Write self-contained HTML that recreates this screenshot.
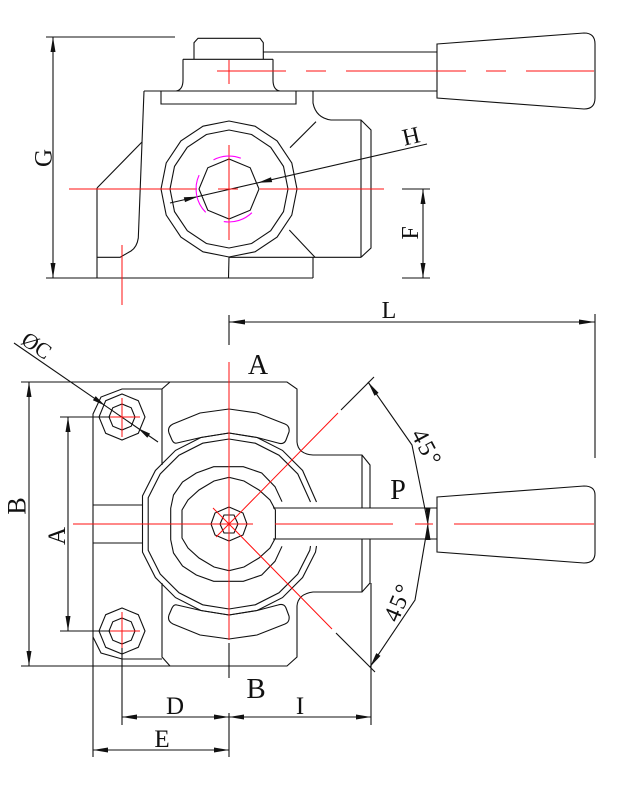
<!DOCTYPE html>
<html>
<head>
<meta charset="utf-8">
<style>
html,body{margin:0;padding:0;background:#fff;}
svg{display:block;}
text{font-family:"Liberation Serif",serif;fill:#111;}
</style>
</head>
<body>
<svg width="629" height="794" viewBox="0 0 629 794" xmlns="http://www.w3.org/2000/svg">
<rect width="629" height="794" fill="#fff"/>

<!-- ================= TOP VIEW ================= -->
<g fill="none" stroke="#111" stroke-width="1.1">
  <path d="M194,59.3 L194,42.7 L198,38.3 L260,38.3 L263.3,42.7 L263.3,59.3"/>
  <path d="M183,59.3 L273,59.3"/>
  <path d="M183,59.3 L183,80 Q183,90 176,91"/>
  <path d="M273,59.3 L273,80 Q273,90 280,91"/>
  <path d="M263.3,52 L437,52"/>
  <path d="M144,91 L437,91"/>
  <path d="M437,44 L584,33 Q595,33 595,44 L595,98 Q595,109 584,109 L437,98 Z"/>
  <path d="M161,91 L161,104 L296,104 L296,91"/>
  <path d="M144,91 L138.3,238 Q137,247 131,251 L120,257.3 L97,257.3"/>
  <path d="M97,188 L97,278"/>
  <path d="M97,188 L142,142"/>
  <path d="M97,278 L313,278"/>
  <path d="M229,257 L228.5,278"/>
  <path d="M313,257 L313,278"/>
  <path d="M229,257.3 L361,257.3"/>
  <path d="M313,91 L313,103 Q316,118 331,120 L361,120 L371,130 L371,248 L361,257.3"/>
  <path d="M361,120 L361,257.3"/>
  <path d="M290,147.7 L316,121.7"/>
  <path d="M289.3,230 L315,257.3"/>
  <polygon points="297,189 291.8,163 277.1,140.9 255,126.2 229,121 203,126.2 180.9,140.9 166.2,163 161,189 166.2,215 180.9,237.1 203,251.8 229,257 255,251.8 277.1,237.1 291.8,215"/>
  <polygon points="288,189 283.5,166.4 270.7,147.3 251.6,134.5 229,130 206.4,134.5 187.3,147.3 174.5,166.4 170,189 174.5,211.6 187.3,230.7 206.4,243.5 229,248 251.6,243.5 270.7,230.7 283.5,211.6"/>
  <polygon points="259,189 250.2,167.8 229,159 207.8,167.8 199,189 207.8,210.2 229,219 250.2,210.2"/>
  <path d="M53,37 L53,278"/>
  <path d="M46,37 L175,37"/>
  <path d="M46,278 L175,278"/>
  <path d="M170,203 L427,144"/>
  <path d="M423,189 L423,278"/>
  <path d="M402,189 L430,189"/>
  <path d="M402,278 L430,278"/>
</g>
<g fill="#111" stroke="none">
  <polygon points="53,37 50.5,52 55.5,52"/>
  <polygon points="53,278 50.5,263 55.5,263"/>
  <polygon points="423,189 420.5,204 425.5,204"/>
  <polygon points="423,278 420.5,263 425.5,263"/>
  <polygon points="198,196.6 185,202.1 183.8,197.3"/>
  <polygon points="258,182.8 272.2,182.1 271,177.3"/>
</g>
<g fill="none" stroke="#ff1010" stroke-width="1">
  <path d="M217,71 L286,71 M306,71 L326,71 M346,71 L466,71 M486,71 L506,71 M526,71 L594,71"/>
  <path d="M229,60 L229,84"/>
  <path d="M69,189 L197,189 M218,189 L238,189 M260,189 L384,189"/>
  <path d="M229,145 L229,240"/>
  <path d="M122,245 L122,305"/>
</g>
<g fill="none" stroke="#ff00ff" stroke-width="1.1">
  <path d="M240.8,158.2 A33,33 0 0 0 213.5,159.9"/>
  <path d="M199.1,175.1 A33,33 0 0 0 205.7,212.3"/>
  <path d="M223.8,221.6 A33,33 0 0 0 251.9,212.7"/>
</g>
<text x="0" y="8.5" font-size="25" text-anchor="middle" transform="translate(43,158) rotate(-90)">G</text>
<text x="0" y="8" font-size="24" text-anchor="middle" transform="translate(411,136) rotate(-13)">H</text>
<text x="0" y="8" font-size="24" text-anchor="middle" transform="translate(410,233) rotate(-90)">F</text>

<!-- ================= BOTTOM VIEW ================= -->
<g fill="none" stroke="#111" stroke-width="1.1">
  <path d="M229,322 L595,322"/>
  <path d="M229,315 L229,345"/>
  <path d="M595,314 L595,458"/>
  <path d="M162,465 L162,389 L170,382 L287,382 L297,389 L297,442 Q298,454 313,455 L362,455 L370,465 L370,508"/>
  <path d="M370,539 L370,583 L362,592 L313,592 Q298,594 297,606 L297,657 L287,666 L170,666 L162,657 L162,583"/>
  <path d="M362,455 L362,508 M362,539 L362,592"/>
  <path d="M162,389 L122,389 L101,397 L93,414 L93,757"/>
  <path d="M93,637 L101,653 L122,659 L162,659"/>
  <path d="M93,505 L142.5,505 M93,543 L142.5,543"/>
  <polygon points="145,417 138.3,400.7 122,394 105.7,400.7 99,417 105.7,433.3 122,440 138.3,433.3"/>
  <polygon points="135,417 131.2,407.8 122,404 112.8,407.8 109,417 112.8,426.2 122,430 131.2,426.2"/>
  <polygon points="145,631 138.3,614.7 122,608 105.7,614.7 99,631 105.7,647.3 122,654 138.3,647.3"/>
  <polygon points="135,631 131.2,621.8 122,618 112.8,621.8 109,631 112.8,640.2 122,644 131.2,640.2"/>
  <path d="M177,443 L200.9,437.5 L229,433 L257.1,437.5 L278,443 Q284,445 286,440 L289,432 Q290,426 285,424 L257,413 L229,409 L200,413 L173,424 Q167,427 169,433 L172,440 Q174,444 177,443 Z"/>
  <path d="M177,605 L200.9,610.5 L229,615 L257.1,610.5 L278,605 Q284,603 286,608 L289,616 Q290,622 285,624 L257,635 L229,639 L200,635 L173,624 Q167,621 169,615 L172,608 Q174,604 177,605 Z"/>
  <polyline points="316.5,502 302.6,470.5 282.5,450.4 257.1,437.5 229,433 200.9,437.5 175.5,450.4 155.4,470.5 142.5,495.9 142.5,552.1 155.4,577.5 175.5,597.6 200.9,610.5 229,615 257.1,610.5 282.5,597.6 302.6,577.5 315.5,552.1 316.5,546"/>
  <polyline points="310.5,502 297.8,474 279,455.2 255.3,443.2 229,439 202.7,443.2 179,455.2 160.2,474 148.2,497.7 148.2,550.3 160.2,574 179,592.8 202.7,604.8 229,609 255.3,604.8 279,592.8 297.8,574 309.8,550.3 310.5,546"/>
  <!-- middle polygon -->
  <polyline points="282,501.7 275,486.7 261.7,473 243.3,466.7 213.7,466.7 196.3,473 182.5,482 173.5,495 170.7,508.3 170.7,539.7 173.5,553 182.5,566 196.3,575 213.7,581.3 243.3,581.3 261.7,575 275,561.3 282,546.3"/>
  <!-- inner polygon -->
  <polygon points="275.4,510 270,500 259,490 244,481 229,477.3 214,481 199,490 188,500 182,510 182,538 188,548 199,558 214,567 229,570.7 244,567 259,558 270,548 275.4,538"/>
  <polygon points="229,507 243,513 247,524 243,535 229,541 215,535 211,524 215,513"/>
  <polygon points="224,515 234,515 238,524 234,533 224,533 220,524"/>
  <path d="M273,508 L437,508 M273,539 L437,539"/>
  <path d="M437,497 L584,486 Q595,486 595,495 L595,553 Q595,563 584,563 L437,552 Z"/>
  <path d="M29,382 L29,666"/>
  <path d="M21,382 L170,382"/>
  <path d="M21,666 L170,666"/>
  <path d="M68,417 L68,631"/>
  <path d="M60,417 L110,417"/>
  <path d="M60,631 L110,631"/>
  <path d="M122,717 L371,717"/>
  <path d="M93,750 L229,750"/>
  <path d="M122,648 L122,725"/>
  <path d="M229,643 L229,678 M229,713 L229,757"/>
  <path d="M371,583 L371,725"/>
  <path d="M14,343 L158,442"/>
  <path d="M341,410 L374,377"/>
  <path d="M336,633 L375,672"/>
  <polyline points="368,382 412,445 428,524 415,600 370,667"/>
</g>
<g fill="#111" stroke="none">
  <polygon points="229,322 245,319.5 245,324.5"/>
  <polygon points="595,322 579,319.5 579,324.5"/>
  <polygon points="29,382 26.5,397 31.5,397"/>
  <polygon points="29,666 26.5,651 31.5,651"/>
  <polygon points="68,417 65.5,432 70.5,432"/>
  <polygon points="68,631 65.5,616 70.5,616"/>
  <polygon points="122,717 137,714.5 137,719.5"/>
  <polygon points="229,717 214,714.5 214,719.5"/>
  <polygon points="229,717 244,714.5 244,719.5"/>
  <polygon points="371,717 356,714.5 356,719.5"/>
  <polygon points="93,750 108,747.5 108,752.5"/>
  <polygon points="229,750 214,747.5 214,752.5"/>
  <polygon points="105,405.6 92.9,400.3 95.7,396.1"/>
  <polygon points="138,428.3 147.3,437.8 150.1,433.6"/>
  <polygon points="368,382 378.6,392.9 374.5,395.7"/>
  <polygon points="428,524 425.5,508 430.5,508"/>
  <polygon points="428,524 425.5,540 430.5,540"/>
  <polygon points="370,667 380.5,655.9 376.3,653.1"/>
</g>
<g fill="none" stroke="#ff1010" stroke-width="1">
  <path d="M229,362 L229,640"/>
  <path d="M73,524 L253,524 M275,524 L393,524 M415,524 L433,524 M454,524 L594,524"/>
  <path d="M229,524 L338,413 M229,524 L332,629 M229,524 L213,508 M229,524 L216,537"/>
  <path d="M122,398 L122,437 M110,417 L140,417"/>
  <path d="M122,612 L122,648 M110,631 L140,631"/>
</g>

<text x="258" y="374" font-size="28" text-anchor="middle">A</text>
<text x="389" y="318" font-size="24" text-anchor="middle">L</text>
<text x="398" y="499" font-size="28" text-anchor="middle">P</text>
<text x="256" y="698" font-size="29" text-anchor="middle">B</text>
<text x="175" y="714" font-size="25" text-anchor="middle">D</text>
<text x="300" y="714" font-size="25" text-anchor="middle">I</text>
<text x="162" y="747" font-size="25" text-anchor="middle">E</text>
<text x="0" y="8.5" font-size="26" text-anchor="middle" transform="translate(17,506) rotate(-90)">B</text>
<text x="0" y="8" font-size="25" text-anchor="middle" transform="translate(57,536) rotate(-90)">A</text>
<text x="0" y="8" font-size="22" text-anchor="middle" transform="translate(37,345) rotate(34.5)">ØC</text>
<text x="0" y="8" font-size="24" text-anchor="middle" letter-spacing="2" transform="translate(427,448) rotate(62)">45°</text>
<text x="0" y="8" font-size="24" text-anchor="middle" letter-spacing="2" transform="translate(398,602) rotate(-67)">45°</text>
</svg>
</body>
</html>
